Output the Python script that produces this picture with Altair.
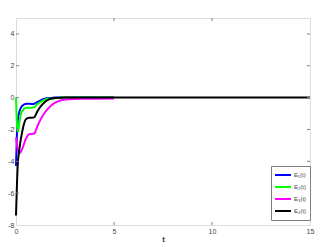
import altair as alt
import pandas as pd

# ---- data ----
labels = ["E\u2081(t)", "E\u2082(t)", "E\u2083(t)", "E\u2084(t)"]
colors = ["#0000ff", "#00ff00", "#ff00ff", "#000000"]

t1 = [0, 0.04, 0.085, 0.15, 0.25, 0.42, 0.55, 0.8, 0.93, 1.1, 1.3, 1.5, 1.75, 2.0, 2.5, 3, 5]
e1 = [-4.3, -2.6, -1.5, -1.0, -0.63, -0.42, -0.38, -0.4, -0.38, -0.27, -0.15, -0.06, -0.02, 0, 0, 0, 0]

t2 = [0, 0.05, 0.1, 0.17, 0.25, 0.42, 0.55, 0.8, 0.95, 1.05, 1.19, 1.35, 1.5, 1.75, 2.0, 2.3, 3, 5]
e2 = [0, -1.7, -2.15, -1.6, -1.05, -0.7, -0.63, -0.63, -0.6, -0.45, -0.32, -0.2, -0.11, -0.06, -0.03, 0, 0, 0]

t3 = [0, 0.08, 0.17, 0.25, 0.34, 0.5, 0.67, 0.8, 0.93, 1.0, 1.1, 1.35, 1.68, 2.0, 2.3, 2.7, 3.5, 5]
e3 = [-2.5, -3.2, -3.5, -3.4, -3.15, -2.6, -2.3, -2.28, -2.26, -2.1, -1.78, -1.16, -0.63, -0.32, -0.17, -0.1, -0.07, -0.05]

t4 = [0, 0.02, 0.04, 0.085, 0.17, 0.34, 0.5, 0.67, 0.8, 0.93, 1.0, 1.1, 1.35, 1.68, 2.0, 2.5, 3, 5, 15]
e4 = [-7.4, -6.6, -5.8, -4.3, -3.25, -2.0, -1.37, -1.26, -1.26, -1.24, -1.1, -0.84, -0.42, -0.11, -0.03, 0, 0, 0, 0]

x_ticks = [0, 5, 10, 15]
y_ticks = [-8, -6, -4, -2, 0, 2, 4]
x_domain = [0, 15]
y_domain = [-8, 5]

# ---- build table ----
rows = []
for i, (ts, es) in enumerate([(t1, e1), (t2, e2), (t3, e3), (t4, e4)]):
    for k, (t, e) in enumerate(zip(ts, es)):
        rows.append({"t": t, "E": e, "series": labels[i], "k": k})
df = pd.DataFrame(rows)

W, H = 294, 207
GRAY = "#7f7f7f"
LBL = "#444444"
FONT = "Liberation Sans"

xs = alt.Scale(domain=x_domain, nice=False, zero=False)
ys = alt.Scale(domain=y_domain, nice=False, zero=False)

x_axis = alt.Axis(values=x_ticks, title="t", ticks=False, domain=False, grid=False,
                  labelFontSize=7, labelColor=LBL, labelFont=FONT, labelPadding=2,
                  labelOverlap=False, labelFlush=False, format="d",
                  titleFontSize=8, titleFont=FONT, titleFontWeight="bold",
                  titleColor="#333333", titlePadding=1)
y_axis = alt.Axis(values=y_ticks, title=None, ticks=False, domain=False, grid=False,
                  labelFontSize=7, labelColor=LBL, labelFont=FONT, labelPadding=2,
                  labelOverlap=False, labelFlush=False, format="d",
                  labelExpr="replace(datum.label, '\u2212', '-')")

lines = alt.Chart(df).mark_line(strokeWidth=2, interpolate="monotone").encode(
    x=alt.X("t:Q", scale=xs, axis=x_axis),
    y=alt.Y("E:Q", scale=ys, axis=y_axis),
    color=alt.Color("series:N",
                    scale=alt.Scale(domain=labels, range=colors),
                    legend=alt.Legend(title=None, orient="none", legendX=255, legendY=148,
                                      symbolType="stroke", symbolSize=256, symbolStrokeWidth=2,
                                      labelFontSize=6, labelFont=FONT, labelColor=LBL,
                                      strokeColor=GRAY, fillColor="white", padding=3,
                                      rowPadding=0, clipHeight=12, labelOffset=2)),
    detail="series:N",
    order=alt.Order("k:Q"),
)

layers = []
for lab in labels:
    layers.append(lines.transform_filter(alt.datum.series == lab))

xt = pd.DataFrame({"t": x_ticks[1:-1]})
yt = pd.DataFrame({"E": y_ticks[1:]})
tick_style = dict(color=GRAY, strokeWidth=1)
tb = alt.Chart(xt).mark_rule(**tick_style).encode(
    x=alt.X("t:Q", scale=xs, axis=x_axis), y=alt.value(H), y2=alt.value(H - 3))
tt = alt.Chart(xt).mark_rule(**tick_style).encode(
    x=alt.X("t:Q", scale=xs, axis=x_axis), y=alt.value(0), y2=alt.value(3))
tl = alt.Chart(yt).mark_rule(**tick_style).encode(
    y=alt.Y("E:Q", scale=ys, axis=y_axis), x=alt.value(0), x2=alt.value(3))
tr = alt.Chart(yt).mark_rule(**tick_style).encode(
    y=alt.Y("E:Q", scale=ys, axis=y_axis), x=alt.value(W), x2=alt.value(W - 3))

chart = alt.layer(*layers, tb, tt, tl, tr).properties(
    width=W, height=H,
    autosize=alt.AutoSizeParams(type="none"),
    padding={"left": 8, "top": 10, "right": 5, "bottom": 22},
).configure_view(stroke=GRAY, strokeWidth=1).configure(background="white")

chart.save("out.html", embed_options={"renderer": "svg", "actions": False})
